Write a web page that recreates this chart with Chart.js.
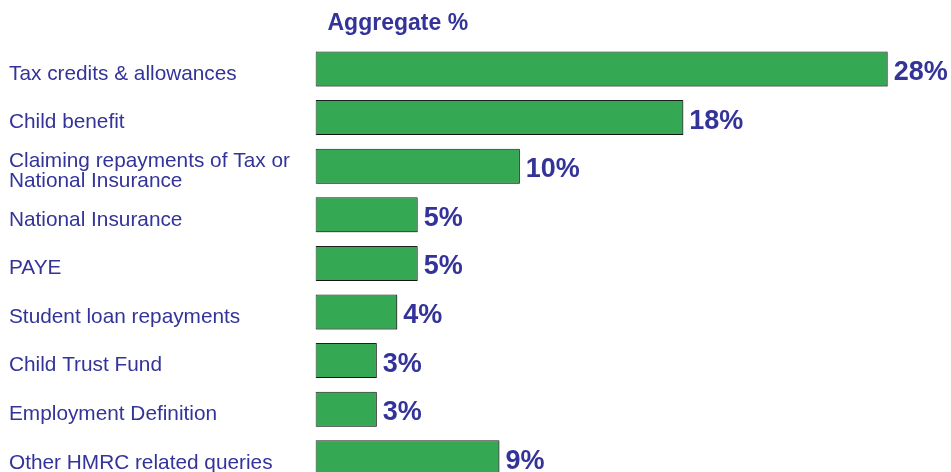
<!DOCTYPE html>
<html>
<head>
<meta charset="utf-8">
<style>
  html, body { margin: 0; padding: 0; background: #fff; overflow: hidden; }
  #wrap { width: 951px; height: 472px; overflow: hidden; }
</style>
</head>
<body>
<div id="wrap"><canvas id="chart" width="951" height="492"></canvas></div>
<script src="https://cdn.jsdelivr.net/npm/chart.js@4/dist/chart.umd.min.js"></script>
<script>
// categories and values (percent)
const categories = [
  "Tax credits & allowances",
  "Child benefit",
  ["Claiming repayments of Tax or", "National Insurance"],
  "National Insurance",
  "PAYE",
  "Student loan repayments",
  "Child Trust Fund",
  "Employment Definition",
  "Other HMRC related queries"
];
const aggregate = [28, 18, 10, 5, 5, 4, 3, 3, 9];
const chartTitle = "Aggregate %";

const textBlue = "#333399";
const barGreen = "#35a853";

// title + value labels drawn on the canvas
const labelsPlugin = {
  id: "labels",
  beforeDatasetsDraw(chart) {
    const ctx = chart.ctx;
    ctx.save();
    ctx.shadowColor = "rgba(0,0,0,0.3)";
    ctx.shadowOffsetX = 1;
    ctx.shadowOffsetY = 1;
    ctx.shadowBlur = 0;
  },
  afterDatasetsDraw(chart) {
    const ctx = chart.ctx;
    ctx.restore();
    ctx.save();
    ctx.fillStyle = textBlue;
    ctx.font = "bold 27px 'Liberation Sans', Arial, sans-serif";
    ctx.textAlign = "left";
    ctx.textBaseline = "alphabetic";
    const meta = chart.getDatasetMeta(0);
    meta.data.forEach((bar, i) => {
      ctx.fillText(aggregate[i] + "%", bar.x + 6, bar.y + 11);
    });
    ctx.font = "bold 23px 'Liberation Sans', Arial, sans-serif";
    ctx.fillText(chartTitle, chart.chartArea.left + 12, 30);
    ctx.restore();
  }
};

new Chart(document.getElementById("chart"), {
  type: "bar",
  data: {
    labels: categories,
    datasets: [{
      data: aggregate,
      backgroundColor: barGreen,
      borderColor: "#1e1e1e",
      borderWidth: 1,
      borderSkipped: false,
      barPercentage: 0.72,
      categoryPercentage: 1
    }]
  },
  options: {
    indexAxis: "y",
    responsive: false,
    animation: false,
    layout: { padding: { top: 44.7, left: 9, right: 0, bottom: 0 } },
    plugins: {
      legend: { display: false },
      tooltip: { enabled: false },
      title: { display: false }
    },
    scales: {
      x: { display: false, min: 0, max: 31.1 },
      y: {
        grid: { display: false },
        border: { display: false },
        afterFit(scale) { scale.width = 306.5; },
        ticks: {
          crossAlign: "far",
          padding: 0,
          labelOffset: 5,
          color: textBlue,
          font: { family: "'Liberation Sans', Arial, sans-serif", size: 20.8, lineHeight: 0.95 }
        }
      }
    }
  },
  plugins: [labelsPlugin]
});
</script>
</body>
</html>
